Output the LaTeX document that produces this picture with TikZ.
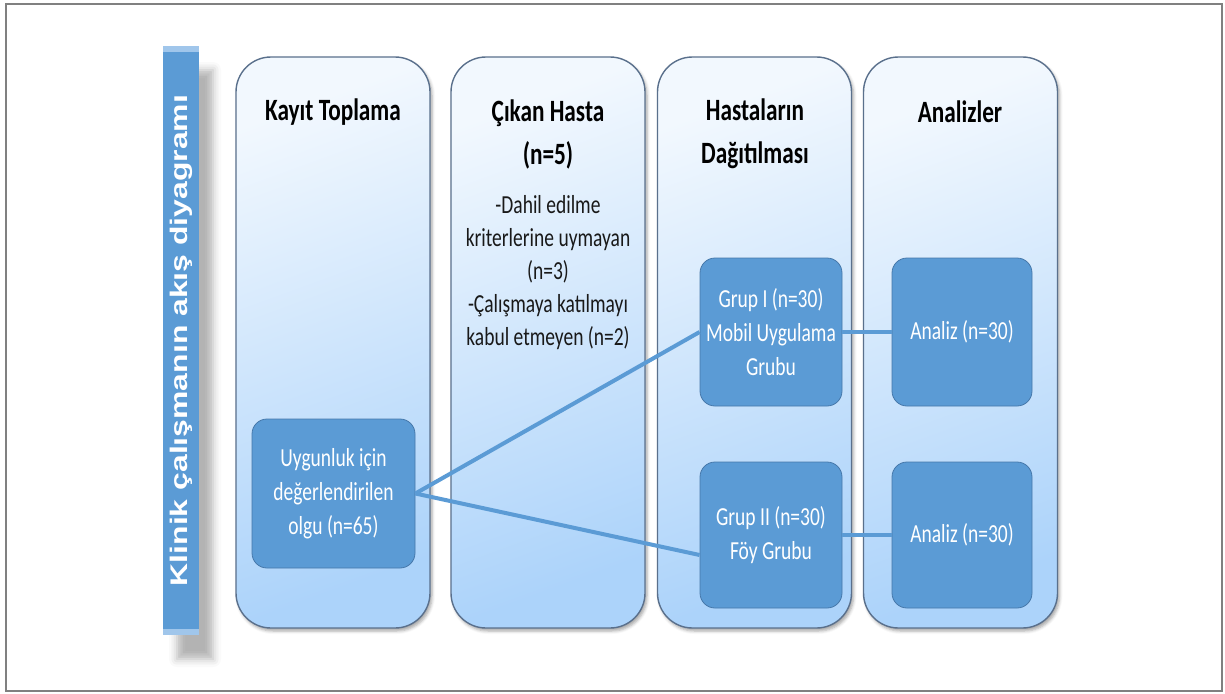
\documentclass[tikz,border=0pt]{standalone}
\usepackage{fontspec}
\usetikzlibrary{shadows.blur}
\newfontfamily\calfont[FakeStretch=0.75]{Carlito}
\newfontfamily\barfont[FakeStretch=1.33]{Liberation Sans}
\definecolor{boxblue}{RGB}{91,155,213}
\definecolor{boxedge}{RGB}{70,120,170}
\definecolor{coltop}{RGB}{242,248,254}
\definecolor{colbot}{RGB}{172,211,250}
\definecolor{coledge}{RGB}{90,112,140}
\definecolor{barlight}{RGB}{160,198,235}
\begin{document}
\begin{tikzpicture}[x=1pt,y=-1pt,
  col/.style={rectangle, rounded corners=35pt, draw=coledge, line width=1.4pt,
    top color=coltop, bottom color=colbot, shading angle=20,
    minimum width=194pt, minimum height=571pt, inner sep=0pt,
    blur shadow={shadow xshift=2pt, shadow yshift=-3pt, shadow opacity=35, shadow blur radius=3pt}},
  head/.style={font=\calfont\bfseries\fontsize{31}{43}\selectfont, align=center, text=black},
  body/.style={font=\calfont\fontsize{26}{33}\selectfont, align=center, text=black!90},
  ibox/.style={rectangle, rounded corners=15pt, fill=boxblue, draw=boxedge, line width=0.8pt,
    text=white, font=\calfont\fontsize{26}{34}\selectfont, align=center, inner sep=0pt},
  conn/.style={draw=boxblue, line width=4pt},
  bar/.style={rectangle, fill=boxblue, minimum width=36pt, minimum height=589pt, inner sep=0pt,
    blur shadow={shadow xshift=14pt, shadow yshift=-24pt, shadow opacity=30, shadow blur radius=8pt}},
  bartext/.style={font=\barfont\bfseries\fontsize{24}{28}\selectfont, text=white, rotate=90}
]
\useasboundingbox (0,0) rectangle (1225,693);
\draw[gray, line width=1.5pt] (6,4) rectangle (1222,691);

% vertical title bar
\node[bar] (bar) at (181,340.5) {};
\fill[barlight] (bar.north west) rectangle ([yshift=-6pt]bar.north east);
\fill[barlight] ([yshift=6pt]bar.south west) rectangle (bar.south east);
\node[bartext] (bt) at (bar.center) {Klinik çalışmanın akış diyagramı};

% columns
\node[col] (c1) at (333,342.5) {};
\node[col] (c2) at (548,342.5) {};
\node[col] (c3) at (754.5,342.5) {};
\node[col] (c4) at (960.5,342.5) {};

% headings
\node[head] (h1) at (333,112) {Kayıt Toplama};
\node[head] (h2) at (548,134) {Çıkan Hasta\\(n=5)};
\node[head] (h3) at (755,134) {Hastaların\\Dağıtılması};
\node[head] (h4) at (960,112) {Analizler};

\node[body] (t2) at (548,273) {-Dahil edilme\\kriterlerine uymayan\\(n=3)\\-Çalışmaya katılmayı\\kabul etmeyen (n=2)};

% inner boxes
\node[ibox, minimum width=163pt, minimum height=149pt] (u) at (333.5,493.5) {Uygunluk için\\değerlendirilen\\olgu (n=65)};
\node[ibox, minimum width=142pt, minimum height=148pt] (g1) at (771,332) {Grup I (n=30)\\Mobil Uygulama\\Grubu};
\node[ibox, minimum width=142pt, minimum height=146pt] (g2) at (771,535) {Grup II (n=30)\\Föy Grubu};
\node[ibox, minimum width=140pt, minimum height=148pt] (a1) at (962,332) {Analiz (n=30)};
\node[ibox, minimum width=140pt, minimum height=146pt] (a2) at (962,535) {Analiz (n=30)};

% connectors
\draw[conn] (u.east) -- (g1.west);
\draw[conn] (u.east) -- ([yshift=-20pt]g2.west);
\draw[conn] (g1.east) -- (a1.west);
\draw[conn] (g2.east) -- (a2.west);
\end{tikzpicture}
\end{document}
